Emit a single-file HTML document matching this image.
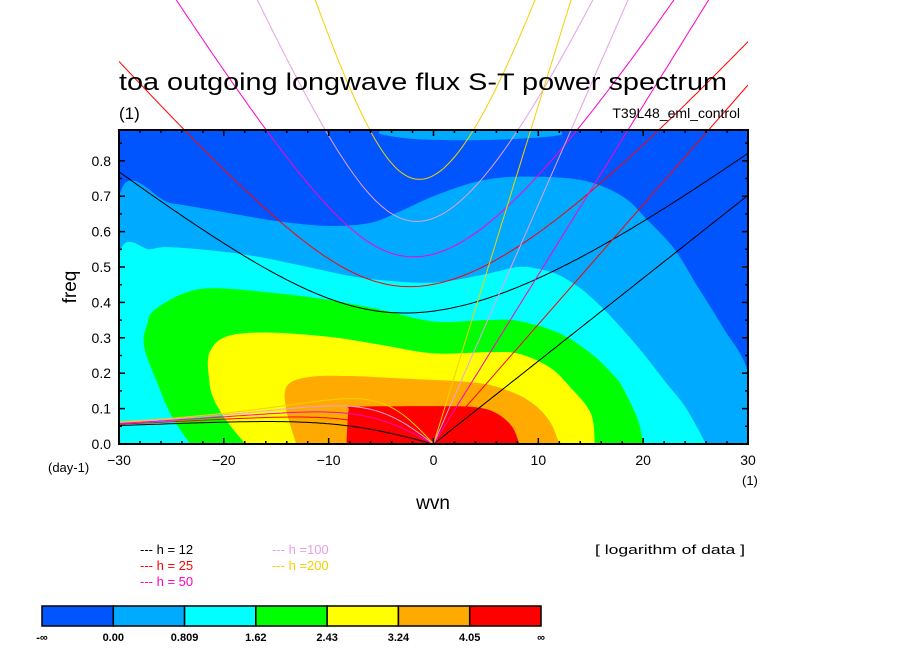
<!DOCTYPE html>
<html><head><meta charset="utf-8"><style>
html,body{margin:0;padding:0;background:#fff;}
svg{display:block;font-family:"Liberation Sans","DejaVu Sans",sans-serif;}
</style></head><body>
<svg id="chart" width="904" height="654" viewBox="0 0 904 654">
<defs><clipPath id="plotclip"><rect x="119" y="130" width="629" height="314"/></clipPath>
<clipPath id="curveclip"><rect x="119" y="0" width="629" height="444"/></clipPath></defs>
<g id="fills" clip-path="url(#plotclip)"></g>
<g id="curves" clip-path="url(#curveclip)"></g>
<g id="axes"></g>
<text x="119" y="90" font-size="24" fill="#000" textLength="608" lengthAdjust="spacingAndGlyphs">toa outgoing longwave flux S-T power spectrum</text>
<text x="119" y="119" font-size="17" fill="#000">(1)</text>
<text x="740" y="118" font-size="14" text-anchor="end" fill="#000">T39L48_eml_control</text>
<text x="76" y="287" font-size="19" fill="#000" text-anchor="middle" transform="rotate(-90 76 287)">freq</text>
<text x="48" y="472" font-size="13" fill="#000">(day-1)</text>
<text x="433" y="509" font-size="19" fill="#000" text-anchor="middle">wvn</text>
<text x="742" y="485" font-size="13" fill="#000">(1)</text>
<text x="595" y="554" font-size="13" fill="#000" textLength="150" lengthAdjust="spacingAndGlyphs">[ logarithm of data ]</text>
<g id="legend"></g>
<g id="colorbar"></g>
</svg>
<script>
const levelColors=["#0055ff","#00aaff","#00ffff","#00ff00","#ffff00","#ffaa00","#ff0000"];
const levelLabels=["-\u221e","0.00","0.809","1.62","2.43","3.24","4.05","\u221e"];
const hValues=[12,25,50,100,200];
const hColors=["#000000","#ff0000","#ff00c8","#e6a0e6","#f5d000"];
const xTicks=[-30,-20,-10,0,10,20,30];
const yTicks=[0,0.1,0.2,0.3,0.4,0.5,0.6,0.7,0.8];
// contour boundaries in [wvn, freq]
const lvl1=[[-30,0],[-30,0.697],[-25,0.68],[-20,0.655],[-15,0.63],[-10,0.616],[-6,0.625],[-3,0.66],[0,0.70],[4,0.74],[8,0.755],[14,0.746],[18,0.7],[20.4,0.633],[23,0.55],[25.2,0.444],[27.6,0.33],[30,0.2],[30,0]];
const lvl1top=[[-5,0.887],[-5,0.875],[-2,0.862],[3,0.858],[8,0.862],[12,0.872],[12,0.887]];
const lvl2=[[-29.4,0],[-30,0.05],[-30,0.529],[-27,0.55],[-25,0.556],[-20,0.543],[-16,0.525],[-12,0.50],[-8,0.475],[-5,0.463],[0,0.456],[5,0.48],[8,0.50],[10,0.495],[12,0.477],[14,0.44],[16,0.388],[18,0.325],[20,0.256],[22,0.18],[24,0.105],[26,0]];
const lvl3=[[-23.2,0],[-25,0.08],[-26.2,0.162],[-27.6,0.275],[-27.3,0.34],[-26.6,0.379],[-23.8,0.426],[-20.8,0.44],[-15,0.426],[-10,0.407],[-5,0.379],[0,0.346],[5,0.35],[8,0.348],[12,0.313],[15,0.256],[17,0.2],[18,0.162],[19.5,0.068],[20,0]];
const lvl4=[[-17.95,0],[-19.8,0.068],[-21,0.13],[-21.4,0.18],[-21.4,0.256],[-19.8,0.303],[-16.1,0.315],[-10,0.303],[-5,0.28],[0,0.256],[5,0.259],[8,0.256],[11,0.218],[13,0.162],[15,0.087],[15.4,0]];
const lvl5=[[-13.1,0],[-14.1,0.105],[-13.9,0.167],[-11.7,0.19],[-8,0.192],[-3,0.185],[3,0.176],[6,0.162],[9,0.124],[11,0.068],[12,0]];
const lvl6=[[-8.3,0],[-8.1,0.096],[-7.7,0.105],[0,0.107],[4,0.104],[6,0.087],[7.5,0.049],[8.2,0]];
const NS="http://www.w3.org/2000/svg";
const X0=119,X1=748,Y0=444,YPER=354;
function xs(k){return X0+(k+30)*(X1-X0)/60;}
function ys(f){return Y0-f*YPER;}
function mk(tag,attrs,parent){const e=document.createElementNS(NS,tag);for(const a in attrs)e.setAttribute(a,attrs[a]);parent.appendChild(e);return e;}
const fills=document.getElementById('fills');
const bg=mk('rect',{x:X0,y:130,width:629,height:314,fill:levelColors[0]},fills);


function smoothPath(pts){const P=pts.map(p=>[xs(p[0]),ys(p[1])]);let d='M'+P[0][0].toFixed(1)+' '+P[0][1].toFixed(1);
 for(let i=0;i<P.length-1;i++){const p0=P[Math.max(i-1,0)],p1=P[i],p2=P[i+1],p3=P[Math.min(i+2,P.length-1)];
  const c1=[p1[0]+(p2[0]-p0[0])/6,p1[1]+(p2[1]-p0[1])/6],c2=[p2[0]-(p3[0]-p1[0])/6,p2[1]-(p3[1]-p1[1])/6];
  d+=' C'+c1[0].toFixed(1)+' '+c1[1].toFixed(1)+' '+c2[0].toFixed(1)+' '+c2[1].toFixed(1)+' '+p2[0].toFixed(1)+' '+p2[1].toFixed(1);}
 return d+'Z';}
function poly(pts,col,name){
 const p=mk('path',{d:smoothPath(pts),fill:col},fills);
 
 }
poly(lvl1,levelColors[1],'level-1-fill');poly(lvl1top,levelColors[1],'level-1-top-fill');
poly(lvl2,levelColors[2],'level-2-fill');poly(lvl3,levelColors[3],'level-3-fill');
poly(lvl4,levelColors[4],'level-4-fill');poly(lvl5,levelColors[5],'level-5-fill');poly(lvl6,levelColors[6],'level-6-fill');
// Matsuno dispersion
const g=9.81,beta=2.29e-11,a=6.371e6,toCpd=86400/(2*Math.PI);
function roots(k,c){
 const p=-(k*k*c*c+3*beta*c),q=-k*beta*c*c;
 const m=2*Math.sqrt(-p/3),th=Math.acos(3*q/(p*m))/3;
 return [0,1,2].map(i=>m*Math.cos(th-2*Math.PI*i/3));}
const curves=document.getElementById('curves');
hValues.forEach((h,hi)=>{
 const c=Math.sqrt(g*h);let ig=[],er=[],kv=[];
 for(let k=-30;k<=30.001;k+=0.25){const kk=k/a;const r=roots(kk,c).sort((u,v)=>u-v);
  ig.push([k,r[2]*toCpd]);
  if(k<=0){er.push([k,(k===0?0:r[1])*toCpd]);}
  if(k>=0)kv.push([k,kk*c*toCpd]);}
 [[ig,'ig'],[er,'er'],[kv,'kelvin']].forEach(([pts,nm])=>{
  const d=pts.map((p,i)=>(i?'L':'M')+xs(p[0]).toFixed(1)+' '+ys(p[1]).toFixed(1)).join(' ');
  const path=mk('path',{d:d,fill:'none',stroke:hColors[hi],'stroke-width':1},curves);
  
  });
});
const axes=document.getElementById('axes');
mk('rect',{x:X0,y:130,width:629,height:314,fill:'none',stroke:'#000','stroke-width':2},axes);
for(let k=-30;k<=30;k+=2){const L=(k%10===0)?6:3;
 mk('line',{x1:xs(k),y1:Y0,x2:xs(k),y2:Y0-L,stroke:'#000','stroke-width':1.5},axes);
 mk('line',{x1:xs(k),y1:130,x2:xs(k),y2:130+L,stroke:'#000','stroke-width':1.5},axes);}
for(let i=0;i<=17;i++){const f=i*0.05;const L=(i%2===0)?6:3;
 mk('line',{x1:X0,y1:ys(f),x2:X0+L,y2:ys(f),stroke:'#000','stroke-width':1.5},axes);
 mk('line',{x1:X1,y1:ys(f),x2:X1-L,y2:ys(f),stroke:'#000','stroke-width':1.5},axes);}
xTicks.forEach(k=>{const t=mk('text',{x:xs(k),y:465,'font-size':14,'text-anchor':'middle'},axes);
 t.textContent=(k<0?'\u2212'+(-k):String(k));
 
 });
yTicks.forEach(f=>{const t=mk('text',{x:111,y:ys(f)+5,'font-size':14,'text-anchor':'end'},axes);
 t.textContent=f.toFixed(1);
 
 });
const leg=document.getElementById('legend');
const legPos=[[140,554],[140,570],[140,586],[272,554],[272,570]];
hValues.forEach((h,i)=>{const t=mk('text',{x:legPos[i][0],y:legPos[i][1],'font-size':13,fill:hColors[i],'xml:space':'preserve'},leg);
 t.textContent='--- h '+(h>=100?'=':'= ')+h;
 
 });
const cb=document.getElementById('colorbar');
const bw=(541-42)/levelColors.length;
levelColors.forEach((c,i)=>{const r=mk('rect',{x:42+i*bw,y:606,width:bw,height:20,fill:c,stroke:'#000','stroke-width':1.5},cb);
 
 });
levelLabels.forEach((l,i)=>{const t=mk('text',{x:42+i*bw,y:641,'font-size':11,'font-weight':'bold','text-anchor':'middle'},cb);
 t.textContent=l;
 
 });
</script>
</body></html>
